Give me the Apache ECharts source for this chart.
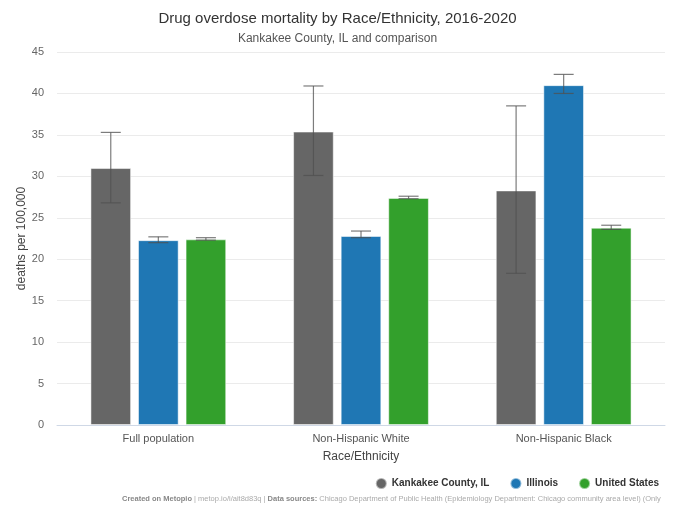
<!DOCTYPE html>
<html>
<head>
<meta charset="utf-8">
<script src="https://cdn.jsdelivr.net/npm/echarts@6/dist/echarts.min.js"></script>
<style>html,body{margin:0;padding:0;background:#fff}#c{width:675px;height:506px}</style>
</head>
<body>
<div id="c"></div>
<script>
var categories = ['Full population', 'Non-Hispanic White', 'Non-Hispanic Black'];
var seriesNames = ['Kankakee County, IL', 'Illinois', 'United States'];
var kankakee = [31.0, 35.4, 28.3];
var kankakeeLow = [26.8, 30.1, 18.3];
var kankakeeHigh = [35.3, 40.9, 38.5];
var illinois = [22.3, 22.8, 41.0];
var illinoisLow = [22.0, 22.6, 40.0];
var illinoisHigh = [22.7, 23.4, 42.3];
var us = [22.4, 27.4, 23.8];
var usLow = [22.3, 27.3, 23.6];
var usHigh = [22.6, 27.6, 24.1];
var colors = ['#666666', '#1f77b4', '#33a02c'];
var yTicks = [0, 5, 10, 15, 20, 25, 30, 35, 40, 45];

var values = [kankakee, illinois, us];
var lows = [kankakeeLow, illinoisLow, usLow];
var highs = [kankakeeHigh, illinoisHigh, usHigh];

var CAT_GAP = 0.33, BAR_GAP = 0.17;

function errorSeries(s) {
  var data = categories.map(function (c, i) { return [i, lows[s][i], highs[s][i]]; });
  return {
    type: 'custom',
    name: seriesNames[s] + ' CI',
    z: 10,
    silent: true,
    data: data,
    renderItem: function (params, api) {
      var i = api.value(0);
      var lo = api.coord([i, api.value(1)]);
      var hi = api.coord([i, api.value(2)]);
      var band = api.size([1, 0])[0];
      var group = band * (1 - CAT_GAP);
      var w = group / (3 + 2 * BAR_GAP);
      var off = (s - 1) * w * (1 + BAR_GAP);
      var x = lo[0] + off;
      var cap = 10;
      var st = { stroke: 'rgba(80,80,80,0.75)', lineWidth: 1.2 };
      return {
        type: 'group',
        children: [
          { type: 'line', shape: { x1: x, y1: hi[1], x2: x, y2: lo[1] }, style: st },
          { type: 'line', shape: { x1: x - cap, y1: hi[1], x2: x + cap, y2: hi[1] }, style: st },
          { type: 'line', shape: { x1: x - cap, y1: lo[1], x2: x + cap, y2: lo[1] }, style: st }
        ]
      };
    }
  };
}

var series = [];
for (var s = 0; s < 3; s++) {
  series.push({
    type: 'bar',
    name: seriesNames[s],
    data: values[s],
    barCategoryGap: (CAT_GAP * 100) + '%',
    barGap: (BAR_GAP * 100) + '%',
    itemStyle: { color: colors[s], borderColor: 'rgba(255,255,255,0.5)', borderWidth: 1 }
  });
}
for (var s2 = 0; s2 < 3; s2++) series.push(errorSeries(s2));

var chart = echarts.init(document.getElementById('c'));
chart.setOption({
  animation: false,
  backgroundColor: '#fff',
  textStyle: { fontFamily: 'Liberation Sans, Arial, sans-serif' },
  title: {
    text: 'Drug overdose mortality by Race/Ethnicity, 2016-2020',
    subtext: 'Kankakee County, IL and comparison',
    left: 'center',
    top: 6,
    itemGap: 7,
    textStyle: { fontSize: 15, fontWeight: 'normal', color: '#333' },
    subtextStyle: { fontSize: 12, color: '#555' }
  },
  legend: {
    data: seriesNames,
    right: 11,
    top: 472,
    icon: 'circle',
    itemWidth: 11,
    itemHeight: 11,
    itemGap: 20,
    textStyle: { fontSize: 10, fontWeight: 'bold', color: '#333' }
  },
  grid: { left: 57, right: 10, top: 52, bottom: 81 },
  xAxis: {
    type: 'category',
    data: categories,
    name: 'Race/Ethnicity',
    nameLocation: 'middle',
    nameGap: 26,
    nameTextStyle: { fontSize: 12, color: '#444' },
    axisLine: { lineStyle: { color: '#cfd8e6' } },
    axisTick: { show: false },
    axisLabel: { fontSize: 11, color: '#555', margin: 8 }
  },
  yAxis: {
    type: 'value',
    min: 0,
    max: 45,
    interval: 5,
    name: 'deaths per 100,000',
    nameLocation: 'middle',
    nameGap: 29,
    nameMoveOverlap: false,
    nameTextStyle: { fontSize: 12, color: '#444' },
    axisLine: { show: false },
    axisTick: { show: false },
    axisLabel: { fontSize: 11, color: '#666', margin: 13,
      formatter: function (v) { return yTicks.indexOf(v) >= 0 ? String(v) : ''; } },
    splitLine: { lineStyle: { color: '#ebebeb' } }
  },
  graphic: [{
    type: 'text',
    left: 122,
    top: 495,
    style: {
      text: '{b|Created on Metopio} | metop.io/i/ait8d83q | {b|Data sources:} Chicago Department of Public Health (Epidemiology Department: Chicago community area level) (Only',
      fontSize: 7.5,
      fill: '#aaa',
      rich: { b: { fontWeight: 'bold', fill: '#888', fontSize: 7.5 } }
    }
  }],
  series: series
});
</script>
</body>
</html>
